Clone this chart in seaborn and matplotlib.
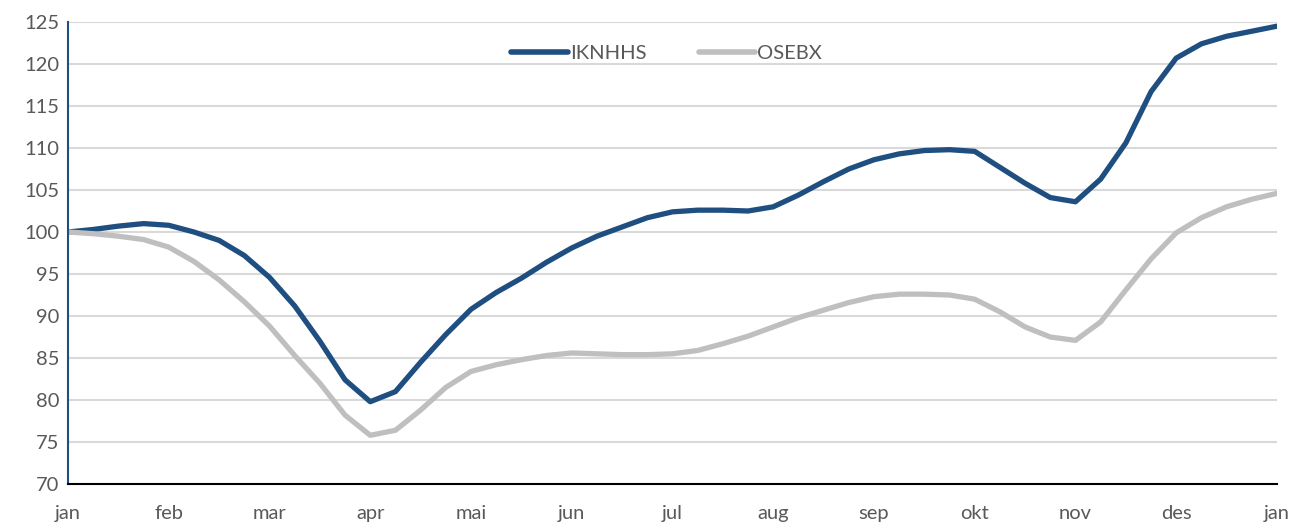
import numpy as np
import pandas as pd
import matplotlib.pyplot as plt
import seaborn as sns

# quarter-month readings, jan .. jan
MONTHS = ["jan", "feb", "mar", "apr", "mai", "jun", "jul",
          "aug", "sep", "okt", "nov", "des", "jan"]
steps = np.arange(0, 12.25, 0.25)

iknhhs = [100.0, 100.3, 100.7, 101.0, 100.8, 100.0, 99.0, 97.2,
          94.6, 91.2, 87.0, 82.4, 79.8, 81.0, 84.5, 87.8,
          90.8, 92.8, 94.5, 96.4, 98.1, 99.5, 100.6, 101.7,
          102.4, 102.6, 102.6, 102.5, 103.0, 104.4, 106.0, 107.5,
          108.6, 109.3, 109.7, 109.8, 109.6, 107.7, 105.8, 104.1,
          103.6, 106.3, 110.6, 116.7, 120.7, 122.4, 123.3, 123.9,
          124.5]
osebx = [100.0, 99.8, 99.5, 99.1, 98.2, 96.5, 94.3, 91.7,
         88.8, 85.3, 82.0, 78.2, 75.8, 76.4, 78.8, 81.5,
         83.4, 84.2, 84.8, 85.3, 85.6, 85.5, 85.4, 85.4,
         85.5, 85.9, 86.7, 87.6, 88.7, 89.8, 90.7, 91.6,
         92.3, 92.6, 92.6, 92.5, 92.0, 90.5, 88.7, 87.5,
         87.1, 89.3, 93.1, 96.8, 99.9, 101.7, 103.0, 103.9,
         104.6]

SERIES_COLORS = {"IKNHHS": "#1F4E80", "OSEBX": "#BFBFBF"}

df = pd.concat([
    pd.DataFrame({"x": steps, "value": iknhhs, "series": "IKNHHS"}),
    pd.DataFrame({"x": steps, "value": osebx, "series": "OSEBX"}),
])

sns.set_style("white")
plt.rcParams["font.family"] = ["Lato", "DejaVu Sans"]

fig = plt.figure(figsize=(12.93, 5.26), dpi=100)
ax = fig.add_axes([0.0526, 0.0798, 0.9350, 0.8784])

sns.lineplot(
    data=df, x="x", y="value", hue="series",
    palette=SERIES_COLORS, linewidth=3.8, ax=ax,
    solid_capstyle="round", solid_joinstyle="round"
)

ax.set_xlim(0, 12)
ax.set_ylim(70, 125)
ax.set_yticks(np.arange(70, 126, 5))
ax.set_xticks(np.arange(13))
ax.set_xticklabels(MONTHS)
ax.set_xlabel("")
ax.set_ylabel("")

ax.yaxis.grid(True, color="#D9D9D9", linewidth=1.5)
ax.set_axisbelow(True)

for side in ["top", "right"]:
    ax.spines[side].set_visible(False)
ax.spines["left"].set_color("#1F4E80")
ax.spines["left"].set_linewidth(1.5)
ax.spines["bottom"].set_color("black")
ax.spines["bottom"].set_linewidth(1.5)
ax.spines["bottom"].set_zorder(5)

ax.tick_params(axis="y", length=0, pad=6, labelsize=14.5, labelcolor="#595959")
ax.tick_params(axis="x", direction="out", length=6, width=1.5, color="black",
               pad=9, labelsize=14.5, labelcolor="#595959")

leg = ax.legend(loc="upper center", bbox_to_anchor=(0.495, 0.99), ncol=2,
                frameon=False, fontsize=14.5, handlelength=2.8,
                handletextpad=0.1, columnspacing=2.6)
for h in leg.get_lines():
    h.set_linewidth(4)
    h.set_solid_capstyle("round")
for t in leg.get_texts():
    t.set_color("#595959")

fig.savefig("out.png", dpi=100)
